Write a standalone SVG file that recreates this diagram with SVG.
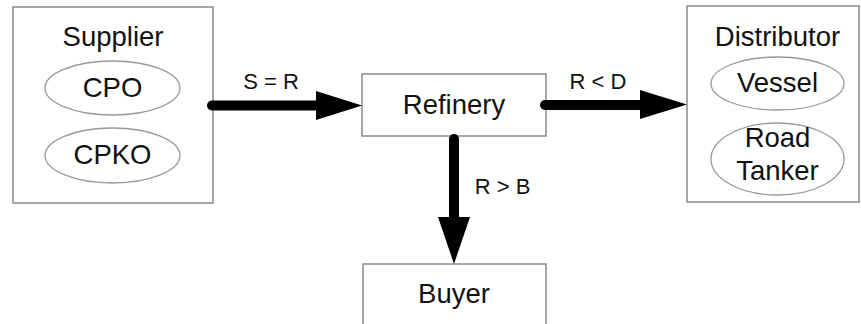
<svg xmlns="http://www.w3.org/2000/svg" width="861" height="324" viewBox="0 0 861 324">
<style>
.box{fill:#fff;stroke:#8a8a8a;stroke-width:1.5}
.ell{fill:#fff;stroke:#999;stroke-width:1.3}
.t{font-family:"Liberation Sans",Arial,sans-serif;font-size:27.5px;fill:#111;text-anchor:middle}
.lbl{font-family:"Liberation Sans",Arial,sans-serif;font-size:22px;fill:#111;text-anchor:middle}
.ln{stroke:#000;stroke-width:10;stroke-linecap:round;fill:none}
.hd{fill:#000}
</style>
<rect width="861" height="324" fill="#fff"/>
<g id="supplier">
<rect class="box" x="13" y="7" width="200" height="196"/>
<text class="t" x="113" y="46">Supplier</text>
<ellipse class="ell" cx="112.5" cy="88" rx="67.5" ry="27"/>
<text class="t" x="112.5" y="97">CPO</text>
<ellipse class="ell" cx="112.5" cy="155.5" rx="67.5" ry="27.5"/>
<text class="t" x="112.5" y="164">CPKO</text>
</g>
<g id="refinery">
<rect class="box" x="362" y="74" width="184" height="62"/>
<text class="t" x="454" y="114">Refinery</text>
</g>
<g id="distributor">
<rect class="box" x="687" y="6" width="172" height="196"/>
<text class="t" x="777.5" y="46">Distributor</text>
<ellipse class="ell" cx="777.5" cy="83.5" rx="66.5" ry="26.5"/>
<text class="t" x="777.5" y="92">Vessel</text>
<ellipse class="ell" cx="777.5" cy="159" rx="66.5" ry="36"/>
<text class="t" x="777.5" y="147">Road</text>
<text class="t" x="777.5" y="180">Tanker</text>
</g>
<g id="buyer">
<rect class="box" x="363" y="264" width="183" height="70"/>
<text class="t" x="454" y="303">Buyer</text>
</g>
<g id="connectors">
<path class="ln" d="M212 105.5H322"/>
<polygon class="hd" points="316,91 362,105.5 316,120"/>
<text class="lbl" x="271" y="89">S = R</text>
<path class="ln" d="M545 105H645"/>
<polygon class="hd" points="640,90 687,104.5 640,119"/>
<text class="lbl" x="598" y="89">R &lt; D</text>
<path class="ln" d="M454 139V222"/>
<polygon class="hd" points="438,217 470,217 454,264"/>
<text class="lbl" x="502.5" y="194">R &gt; B</text>
</g>
</svg>
